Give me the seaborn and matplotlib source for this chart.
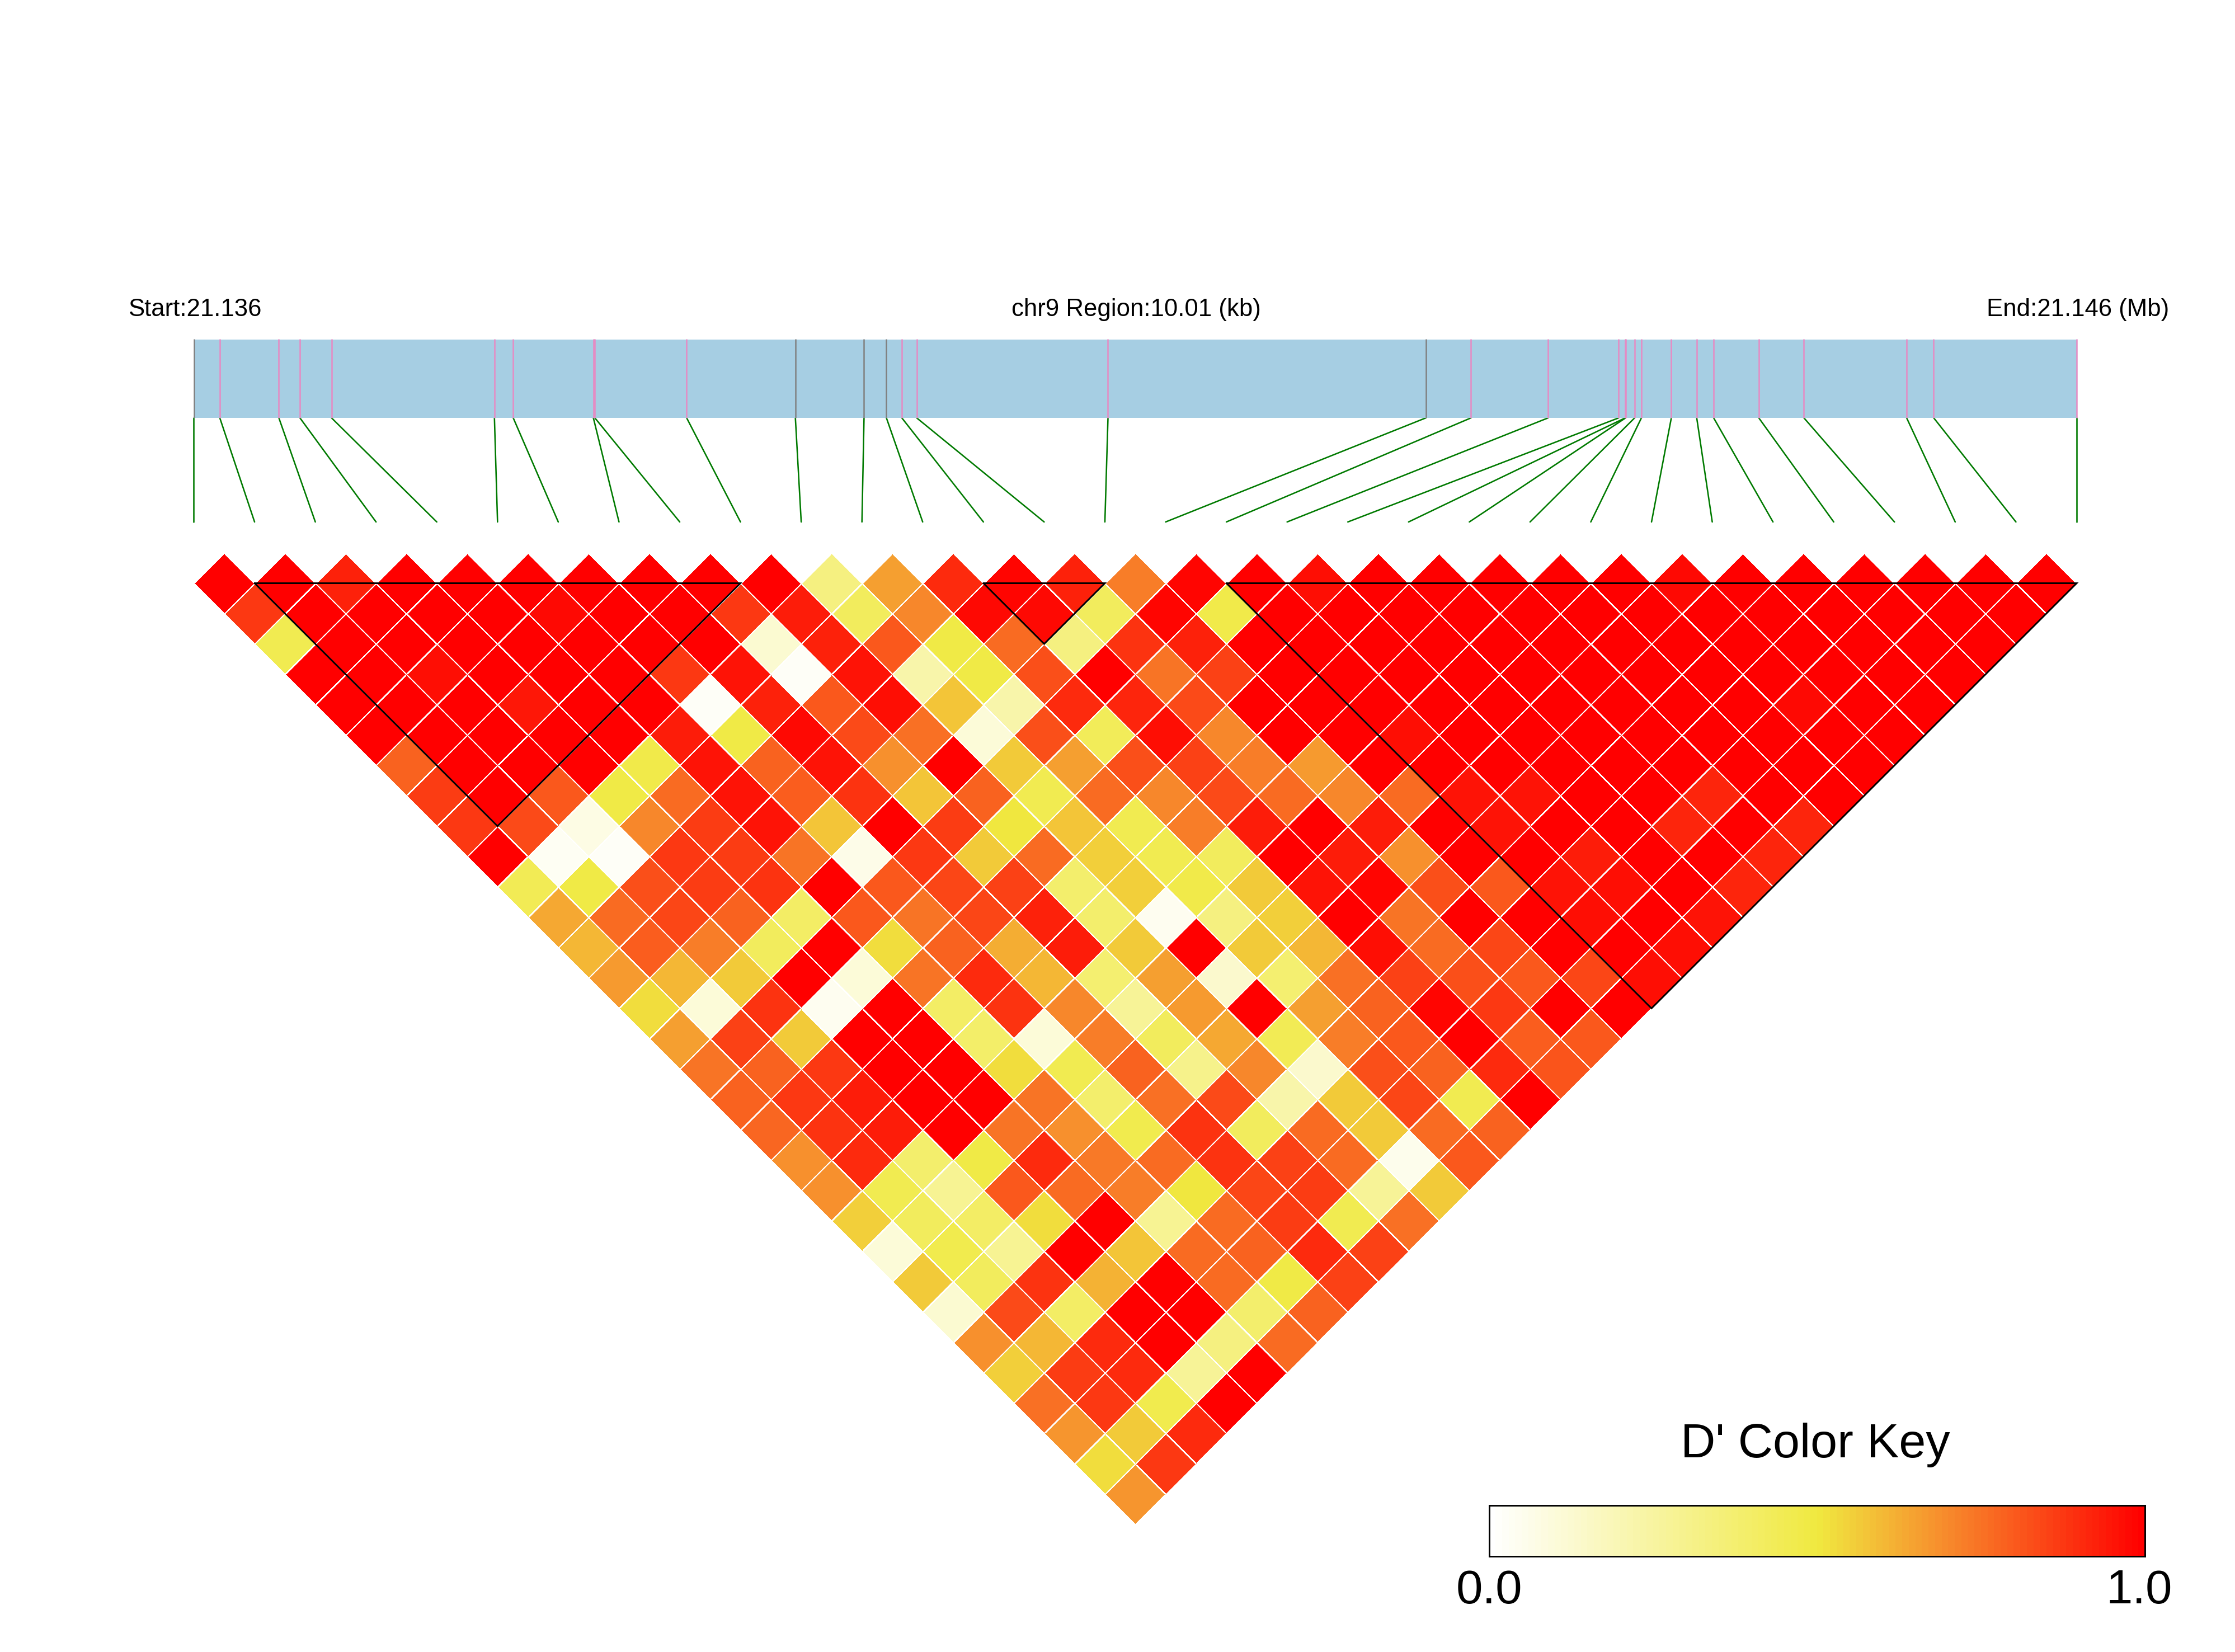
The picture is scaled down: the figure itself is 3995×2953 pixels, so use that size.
import matplotlib

matplotlib.use("Agg")
import matplotlib.pyplot as plt
import numpy as np
import seaborn as sns
from matplotlib.colors import LinearSegmentedColormap
from matplotlib.transforms import Affine2D

# D' values, one list per distance between SNPs (row_00 = neighbours)
row_00 = [1, 1, .92, 1, 1, 1, 1, 1, 1, 1, .33, .65, .9, .98, .92, .72, .98, 1, .96, 1, 1, 1, 1, 1, .97, 1, 1, 1, 1, 1, 1]
row_01 = [.87, 1, 1, 1, 1, .97, 1, 1, .87, .93, .42, .7, .97, .97, .42, .98, .47, 1, 1, 1, 1, 1, 1, 1, 1, 1, 1, 1, 1, 1]
row_02 = [.45, 1, 1, 1, 1, 1, 1, 1, .12, .92, .8, .48, .76, .33, .88, .92, 1, 1, 1, 1, 1, 1, 1, 1, 1, 1, 1, 1, 1]
row_03 = [1, 1, .96, 1, 1, 1, .87, .95, .02, .95, .22, .48, .82, 1, .74, .85, 1, 1, 1, 1, 1, 1, 1, 1, 1, 1, 1, 1]
row_04 = [1, 1, 1, .94, 1, 1, .02, .92, .8, .96, .58, .22, .9, .91, .83, 1, 1, 1, 1, 1, 1, 1, 1, 1, .97, 1, 1]
row_05 = [1, 1, 1, 1, 1, .93, .48, .97, .83, .75, .1, .82, .43, .96, .7, 1, 1, .96, 1, 1, 1, 1, 1, 1, 1, 1]
row_06 = [.78, 1, 1, 1, .47, .95, .78, .95, .68, 1, .56, .65, .82, .85, .72, .66, 1, 1, 1, 1, 1, 1, 1, 1, 1]
row_07 = [.86, 1, .8, .48, .76, .95, .79, .88, .58, .78, .45, .76, .7, .83, .76, .7, .76, .95, .95, 1, 1, .91, 1, 1]
row_08 = [.87, .83, .07, .7, .86, .95, .58, 1, .86, .5, .58, .45, .72, .93, 1, .93, 1, .95, 1, 1, .91, 1, .91]
row_09 = [1, .03, .02, .87, .86, .74, .06, .87, .56, .76, .55, .45, .42, 1, .93, .68, 1, 1, .93, 1, 1, .91]
row_10 = [.44, .48, .82, .86, .88, 1, .8, .84, .85, .38, .55, .47, .56, .95, .98, .82, .8, .95, .96, 1, .91]
row_11 = [.63, .76, .84, .78, .4, .8, .74, .84, .92, .38, .04, .33, .55, 1, .74, 1, 1, .96, 1, .95]
row_12 = [.6, .79, .72, .42, 1, .52, .78, .62, .93, .56, 1, .56, .6, .96, .76, .84, 1, 1, .96]
row_13 = [.66, .6, .56, 1, .1, .74, .9, .6, .37, .65, .13, .37, .75, .85, .82, .8, .84, .96]
row_14 = [.52, .1, .88, .04, 1, .4, .88, .7, .27, .66, 1, .65, .78, .98, .87, 1, 1]
row_15 = [.65, .85, .56, 1, 1, .39, .1, .72, .42, .63, .44, .72, .8, 1, .79, .8]
row_16 = [.74, .78, .87, 1, 1, .52, .45, .78, .3, .7, .13, .82, .78, .9, .81]
row_17 = [.78, .87, .93, 1, 1, .74, .38, .75, .83, .22, .56, .84, .45, 1]
row_18 = [.77, .88, .93, 1, .74, .68, .46, .88, .42, .76, .56, .76, .78]
row_19 = [.68, .9, .38, .48, .9, .73, .76, .88, .85, .76, .05, .8]
row_20 = [.68, .45, .28, .8, .76, .72, .5, .84, .86, .27, .56]
row_21 = [.55, .42, .4, .52, 1, .28, .76, .86, .45, .75]
row_22 = [.1, .46, .28, 1, .58, .76, .78, .9, .85]
row_23 = [.57, .42, .88, .61, 1, .76, .48, .85]
row_24 = [.12, .83, .4, 1, 1, .38, .78]
row_25 = [.68, .6, .9, 1, .33, .76]
row_26 = [.55, .86, .9, .27, 1]
row_27 = [.75, .87, .46, 1]
row_28 = [.67, .56, .9]
row_29 = [.52, .87]
row_30 = [.67]

ld_rows = [
    row_00, row_01, row_02, row_03, row_04, row_05, row_06, row_07,
    row_08, row_09, row_10, row_11, row_12, row_13, row_14, row_15,
    row_16, row_17, row_18, row_19, row_20, row_21, row_22, row_23,
    row_24, row_25, row_26, row_27, row_28, row_29, row_30,
]

# SNP positions along the region, kb from the start
snp_kb = [
    0, .138, .452, .564, .732, 1.598, 1.698, 2.124, 2.132, 2.62, 3.198,
    3.563, 3.682, 3.764, 3.843, 4.86, 6.55, 6.79, 7.2, 7.575, 7.61, 7.612,
    7.66, 7.696, 7.855, 7.99, 8.08, 8.32, 8.56, 9.106, 9.25, 10.01,
]
gray_snps = [0, 10, 11, 12, 16]

# Haplotype blocks, as first and last SNP index
block_start = [1, 13, 17]
block_end = [9, 15, 31]

region_kb = 10.01
start_label = "Start:21.136"
middle_label = "chr9 Region:10.01 (kb)"
end_label = "End:21.146 (Mb)"
key_title = "D' Color Key"
key_ticks = ["0.0", "1.0"]
key_colors = ["#FFFFFF", "#F0E940", "#F78A2C", "#FF0000"]
key_stops = [0.0, 0.5, 0.7, 1.0]

# Layout in pixels of the output picture
W, H = 3995, 2953
X0, X1 = 346.5, 3712.0
Y0 = 1042.5
MAP_TOP, MAP_BOTTOM, LINK_BOTTOM = 607, 747, 933
KEY_LEFT, KEY_RIGHT, KEY_TOP, KEY_BOTTOM = 2661.5, 3834, 2690.5, 2782

sns.set_style("white")
plt.rcParams["font.family"] = ["Liberation Sans", "DejaVu Sans"]
plt.rcParams["text.color"] = "black"

cmap = LinearSegmentedColormap.from_list("dprime", list(zip(key_stops, key_colors)), N=100)

n_cells = len(ld_rows)
half = (X1 - X0) / (2 * n_cells)
matrix = np.full((n_cells, n_cells), np.nan)
for d, row in enumerate(ld_rows):
    for i, value in enumerate(row):
        matrix[i, i + d] = value

fig = plt.figure(figsize=(W / 300, H / 300), dpi=300)
ax = fig.add_axes([0, 0, 1, 1])

sns.heatmap(
    matrix,
    mask=np.isnan(matrix),
    cmap=cmap,
    vmin=0,
    vmax=1,
    cbar=False,
    linewidths=0.33,
    linecolor="white",
    xticklabels=False,
    yticklabels=False,
    ax=ax,
)

# Turn the square matrix 45 degrees into the usual LD triangle
mesh = ax.collections[0]
mesh.set_transform(
    Affine2D.from_values(half, half, half, -half, X0, Y0) + ax.transData
)

ax.set_xlim(0, W)
ax.set_ylim(H, 0)
ax.set_axis_off()

# Block outlines
for first, last in zip(block_start, block_end):
    left = X0 + first * 2 * half
    right = X0 + last * 2 * half
    apex_x = (left + right) / 2
    apex_y = Y0 + (right - left) / 2
    ax.plot(
        [left, right, apex_x, left],
        [Y0, Y0, apex_y, Y0],
        color="black",
        lw=0.7,
        solid_joinstyle="miter",
    )

# Lines from the map down to the triangle
px_per_kb = (X1 - X0) / region_kb
for i, kb in enumerate(snp_kb):
    ax.plot(
        [X0 + kb * px_per_kb, X0 + i * 2 * half],
        [MAP_BOTTOM, LINK_BOTTOM],
        color="#007A00",
        lw=0.62,
    )

# Gene map bar
ax_map = fig.add_axes(
    [X0 / W, 1 - MAP_BOTTOM / H, (X1 - X0) / W, (MAP_BOTTOM - MAP_TOP) / H]
)
ax_map.set_xlim(0, region_kb)
ax_map.set_ylim(0, 1)
ax_map.set_facecolor("#A6CEE3")
ax_map.set_xticks([])
ax_map.set_yticks([])
for spine in ax_map.spines.values():
    spine.set_visible(False)
for i, kb in enumerate(snp_kb):
    ax_map.vlines(
        kb,
        0,
        1.01,
        color="#808080" if i in gray_snps else "#E78AC3",
        lw=0.6,
        clip_on=False,
    )

# Header text
header_y = 565
ax.text(X0 + 2, header_y, start_label, ha="center", va="baseline", fontsize=10.5)
ax.text((X0 + X1) / 2 + 2, header_y, middle_label, ha="center", va="baseline", fontsize=10.5)
ax.text(X1 + 2, header_y, end_label, ha="center", va="baseline", fontsize=10.5)

# Colour key
ax_key = fig.add_axes(
    [KEY_LEFT / W, 1 - KEY_BOTTOM / H, (KEY_RIGHT - KEY_LEFT) / W, (KEY_BOTTOM - KEY_TOP) / H]
)
sns.heatmap(
    np.linspace(0, 1, 100).reshape(1, -1),
    cmap=cmap,
    vmin=0,
    vmax=1,
    cbar=False,
    xticklabels=False,
    yticklabels=False,
    ax=ax_key,
)
for spine in ax_key.spines.values():
    spine.set_visible(True)
    spine.set_color("black")
    spine.set_linewidth(0.7)

ax.text((KEY_LEFT + KEY_RIGHT) / 2 - 3, 2605, key_title, ha="center", va="baseline", fontsize=20.7)
ax.text(KEY_LEFT, 2866, key_ticks[0], ha="center", va="baseline", fontsize=20.5)
ax.text(KEY_RIGHT - 10, 2866, key_ticks[1], ha="center", va="baseline", fontsize=20.5)

fig.savefig("out.png", dpi=300, facecolor="white")
